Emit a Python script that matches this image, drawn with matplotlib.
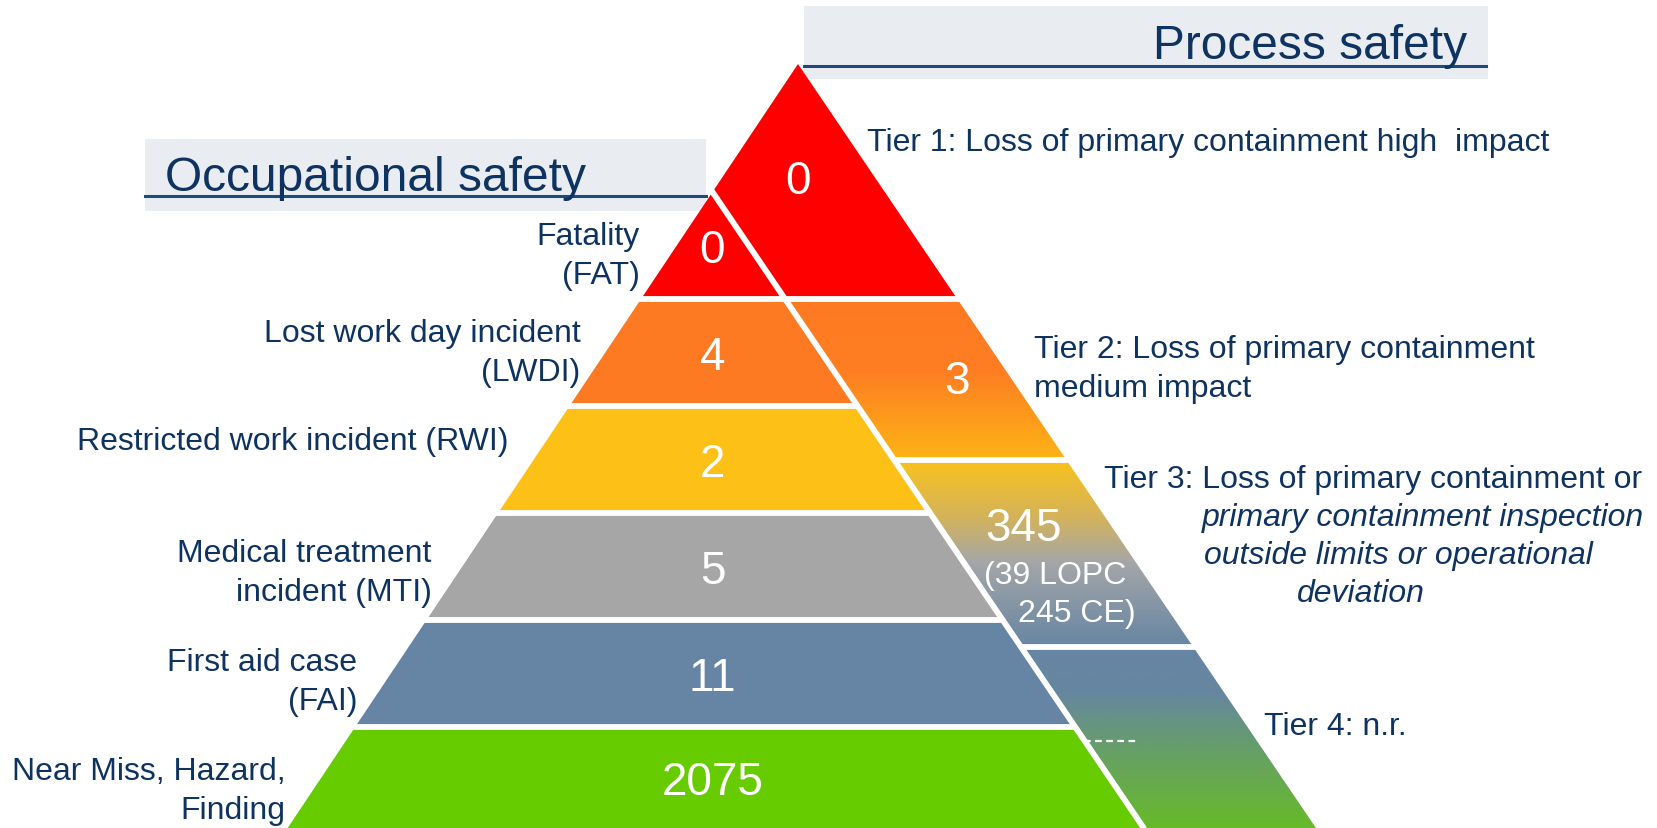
import numpy as np
import matplotlib
matplotlib.use("Agg")
import matplotlib.pyplot as plt
from matplotlib.patches import Polygon, Rectangle
from matplotlib.colors import LinearSegmentedColormap

plt.rcParams['font.family'] = ['Liberation Sans', 'DejaVu Sans']

# ---- data ----
occ_title = "Occupational safety"
proc_title = "Process safety"

occ_labels = ["Fatality\n(FAT)", "Lost work day incident\n(LWDI)",
              "Restricted work incident (RWI)", "Medical treatment\nincident (MTI)",
              "First aid case\n(FAI)", "Near Miss, Hazard,\nFinding"]
occ_counts = [0, 4, 2, 5, 11, 2075]

tier_labels = ["Tier 1: Loss of primary containment high  impact",
               "Tier 2: Loss of primary containment\nmedium impact",
               "Tier 3: Loss of primary containment or",
               "Tier 4: n.r."]
tier3_note = ["primary containment inspection", "outside limits or operational", "deviation"]
tier_counts = ["0", "3", "345", ""]
tier3_split = ["(39 LOPC", "245 CE)"]

# ---- styles ----
navy = '#0F3361'
occ_colors = ['#FF0000', '#FE7A22', '#FDC017', '#A6A6A6', '#6684A3', '#66CC00']
tier_grads = [
    [(0, '#FF0000'), (1, '#FF0000')],
    [(0, '#FE7A22'), (0.45, '#FE7E22'), (1, '#FDB416')],
    [(0, '#F9C21C'), (0.3, '#D4B35A'), (0.55, '#A4A6A8'), (1, '#6685A3')],
    [(0, '#6685A3'), (0.25, '#6687A0'), (0.55, '#669F68'), (1, '#67BC24')],
]
lab_size = 23
num_size = 33

W, H = 1658, 829
fig = plt.figure(figsize=(W / 100, H / 100), dpi=100)
ax = fig.add_axes([0, 0, 1, 1])

# ---- pyramid geometry (pixel space, y downwards) ----
apex = (798, 65)
sl, sr = 0.668, 0.678


def left_x(y):
    return apex[0] - sl * (y - apex[1])


def right_x(y):
    return apex[0] + sr * (y - apex[1])


occ_top = 193
occ_x0 = left_x(occ_top)


def div_x(y):
    return occ_x0 + sr * (y - occ_top)


band_h = 107
occ_edges = occ_top + band_h * np.arange(len(occ_counts) + 1)
proc_edges = [apex[1], 300, 461, 647.5, 835]


def cap_text(x, y, s, size, color, ha='left', **kw):
    # y = vertical middle of capital letters
    base = y + 0.358 * size * 100 / 72
    ax.text(x, base, s, fontsize=size, color=color, ha=ha, va='baseline', **kw)


# title boxes
ax.add_patch(Rectangle((145, 140), 561, 72, facecolor='#E9EDF2', edgecolor='none', zorder=0))
ax.plot([145, 706], [196.7, 196.7], color='#1F4B7A', lw=2.2, zorder=1)
ax.text(165, 191, occ_title, fontsize=34.5, color=navy, ha='left', va='baseline', zorder=2)

ax.add_patch(Rectangle((804, 7), 684, 73, facecolor='#E9EDF2', edgecolor='none', zorder=0))
ax.plot([804, 1486], [66.7, 66.7], color='#1F4B7A', lw=2.2, zorder=1)
ax.text(1467, 59, proc_title, fontsize=34.5, color=navy, ha='right', va='baseline', zorder=2)

# occupational bands
for i, (cnt, col) in enumerate(zip(occ_counts, occ_colors)):
    t, b = occ_edges[i], occ_edges[i + 1]
    if i == 0:
        pts = [(occ_x0, t), (div_x(b), b), (left_x(b), b)]
    else:
        pts = [(left_x(t), t), (div_x(t), t), (div_x(b), b), (left_x(b), b)]
    ax.add_patch(Polygon(pts, closed=True, facecolor=col, edgecolor='none', zorder=3))
    yc = (t + min(b, H)) / 2 if i == len(occ_counts) - 1 else (t + b) / 2
    cap_text(occ_x0, yc, str(cnt), num_size, 'white', ha='center', zorder=6)

# process tiers with vertical gradients
for i, stops in enumerate(tier_grads):
    t, b = proc_edges[i], proc_edges[i + 1]
    if i == 0:
        pts = [apex, (right_x(b), b), (div_x(b), b), (occ_x0, occ_top)]
    else:
        pts = [(div_x(t), t), (right_x(t), t), (right_x(b), b), (div_x(b), b)]
    poly = Polygon(pts, closed=True, facecolor='none', edgecolor='none', zorder=3)
    ax.add_patch(poly)
    cmap = LinearSegmentedColormap.from_list('tier%d' % i, stops)
    grad = np.linspace(0, 1, 256).reshape(-1, 1)
    xs = [p[0] for p in pts]
    im = ax.imshow(grad, cmap=cmap, vmin=0, vmax=1, aspect='auto', origin='upper',
                   extent=(min(xs), max(xs), b, t), zorder=3, interpolation='bilinear')
    im.set_clip_path(poly)

# white gaps
gap = 4.2
for y in occ_edges[1:-1]:
    ax.plot([left_x(y) - 5, div_x(y)], [y, y], color='white', lw=gap, zorder=4, solid_capstyle='butt')
for y in proc_edges[1:-1]:
    ax.plot([div_x(y), right_x(y) + 5], [y, y], color='white', lw=gap, zorder=4, solid_capstyle='butt')
ax.plot([div_x(occ_top - 3), div_x(840)], [occ_top - 3, 840], color='white', lw=gap, zorder=4,
        solid_capstyle='butt')

# dashed marker in tier 4
ax.plot([1084, 1137], [742.3, 742.3], color='white', lw=1.6, ls=(0, (3, 2)), zorder=5)

# numbers in process tiers
cap_text(798, 178, tier_counts[0], num_size, 'white', ha='center', zorder=6)
cap_text(957, 378, tier_counts[1], num_size, 'white', ha='center', zorder=6)
cap_text(1024, 525, tier_counts[2], num_size, 'white', ha='center', zorder=6)
cap_text(984, 573, tier3_split[0], lab_size, 'white', ha='left', zorder=6)
cap_text(1136, 611, tier3_split[1], lab_size, 'white', ha='right', zorder=6)

# occupational labels (right aligned)
occ_lab_pos = [(640, 234), (580.6, 331), (508.7, 439), (431.4, 551), (357.4, 660), (285.5, 769)]
for lab, (x, y) in zip(occ_labels, occ_lab_pos):
    for k, line in enumerate(lab.split('\n')):
        cap_text(x, y + k * 38.5, line, lab_size, navy, ha='right', zorder=6)

# tier labels (left aligned)
tier_lab_pos = [(867, 140), (1034, 347), (1104, 477), (1264, 724)]
for lab, (x, y) in zip(tier_labels, tier_lab_pos):
    for k, line in enumerate(lab.split('\n')):
        cap_text(x, y + k * 39, line, lab_size, navy, ha='left', zorder=6)

note_pos = [(1202, 515), (1204, 553), (1297, 591)]
for line, (x, y) in zip(tier3_note, note_pos):
    cap_text(x, y, line, lab_size, navy, ha='left', style='italic', zorder=6)

ax.set_xlim(0, W)
ax.set_ylim(H, 0)
ax.axis('off')
fig.savefig('out.png', dpi=100)
